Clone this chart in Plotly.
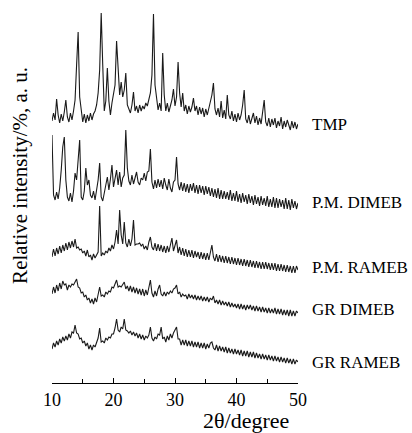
#!/usr/bin/env python3

import numpy as np
import plotly.graph_objects as go

# 2-theta sampling grid (degree), 0.25 step
two_theta = np.arange(10.0, 50.001, 0.25)

# intensities (arbitrary units, stacked offsets included)
tmp = [264, 272, 265, 286, 270, 262, 271, 264, 273, 285, 268, 263, 272, 265, 274, 285,
       320, 353, 288, 272, 263, 271, 262, 270, 264, 272, 265, 271, 274, 280, 292, 315,
       372, 320, 274, 284, 317, 284, 270, 282, 290, 300, 344, 318, 290, 303, 288, 295,
       312, 280, 276, 272, 280, 293, 274, 279, 272, 280, 274, 279, 276, 282, 279, 286,
       292, 310, 371, 300, 288, 275, 282, 274, 332, 290, 274, 282, 273, 280, 285, 296,
       279, 288, 323, 292, 278, 292, 274, 280, 271, 279, 273, 278, 287, 274, 279, 270,
       278, 271, 277, 268, 276, 270, 278, 283, 290, 302, 276, 270, 277, 268, 284, 267,
       275, 266, 290, 270, 266, 274, 264, 271, 263, 272, 265, 270, 280, 295, 266, 262,
       270, 261, 268, 272, 262, 269, 260, 267, 261, 272, 285, 263, 259, 267, 258, 266,
       260, 267, 257, 264, 259, 268, 256, 264, 258, 265, 261, 255, 264, 257, 263, 256,
       261]

pm_dimeb = [250, 190, 185, 193, 186, 197, 215, 238, 248, 205, 188, 184, 192, 183, 194, 212,
            205, 230, 245, 188, 185, 194, 217, 200, 205, 190, 187, 194, 185, 195, 205, 222,
            188, 184, 194, 200, 208, 195, 206, 220, 198, 208, 215, 200, 213, 198, 207, 210,
            255, 217, 204, 200, 210, 201, 209, 213, 203, 200, 207, 205, 212, 204, 213, 214,
            236, 203, 196, 205, 197, 206, 198, 205, 196, 207, 200, 195, 206, 197, 193, 203,
            205, 228, 201, 195, 203, 194, 202, 193, 201, 192, 201, 194, 202, 192, 200, 191,
            200, 192, 199, 190, 199, 191, 198, 189, 197, 188, 196, 187, 197, 186, 195, 186,
            194, 186, 193, 185, 195, 184, 192, 184, 194, 183, 191, 182, 192, 183, 190, 181,
            191, 182, 189, 180, 190, 181, 188, 179, 189, 180, 187, 179, 189, 178, 186, 178,
            188, 177, 187, 177, 186, 178, 185, 176, 187, 176, 185, 175, 186, 177, 184, 176,
            182]

pm_rameb = [128, 136, 129, 137, 131, 139, 132, 140, 134, 142, 135, 143, 137, 144, 138, 146,
            137, 138, 135, 136, 132, 134, 129, 135, 128, 130, 125, 131, 127, 130, 133, 179,
            129, 132, 130, 134, 132, 137, 134, 140, 136, 143, 155, 141, 175, 150, 141, 163,
            142, 138, 146, 139, 146, 165, 140, 141, 141, 142, 139, 141, 136, 139, 135, 143,
            148, 138, 135, 142, 134, 141, 134, 140, 133, 139, 132, 139, 133, 140, 147, 134,
            141, 145, 132, 138, 130, 137, 129, 136, 128, 135, 128, 135, 127, 134, 128, 133,
            126, 133, 126, 132, 125, 132, 125, 133, 140, 128, 124, 131, 123, 130, 123, 129,
            122, 129, 122, 128, 121, 128, 121, 127, 120, 127, 120, 126, 119, 126, 119, 125,
            118, 125, 118, 124, 117, 124, 117, 123, 116, 123, 116, 123, 116, 122, 115, 122,
            115, 122, 114, 121, 114, 121, 114, 120, 113, 120, 113, 119, 112, 119, 112, 119,
            115]

gr_dimeb = [91, 98, 92, 100, 94, 102, 96, 104, 100, 101, 95, 100, 98, 101, 100, 104,
            106, 98, 97, 92, 93, 88, 90, 85, 87, 82, 86, 81, 87, 83, 90, 98,
            89, 90, 88, 93, 91, 94, 93, 98, 97, 102, 105, 98, 99, 98, 100, 103,
            96, 99, 94, 99, 93, 98, 92, 97, 91, 96, 90, 96, 89, 95, 90, 97,
            105, 92, 88, 94, 89, 96, 100, 91, 89, 93, 89, 93, 91, 94, 92, 96,
            97, 100, 91, 93, 88, 91, 89, 90, 86, 91, 87, 90, 86, 90, 85, 89,
            85, 89, 84, 88, 84, 88, 83, 87, 85, 89, 82, 85, 81, 85, 80, 84,
            80, 83, 79, 83, 78, 82, 78, 81, 77, 81, 76, 81, 76, 80, 75, 80,
            76, 80, 75, 79, 74, 79, 74, 78, 73, 78, 73, 77, 72, 77, 72, 76,
            72, 77, 71, 76, 71, 76, 70, 75, 70, 75, 69, 75, 69, 74, 69, 74,
            72]

gr_rameb = [36, 42, 38, 44, 40, 46, 42, 48, 44, 49, 45, 51, 47, 53, 52, 60,
            52, 51, 46, 47, 42, 44, 39, 42, 36, 40, 35, 40, 38, 43, 47, 57,
            43, 44, 42, 47, 45, 48, 47, 51, 51, 57, 66, 55, 53, 58, 56, 66,
            55, 54, 52, 54, 50, 53, 49, 52, 47, 51, 46, 50, 45, 49, 47, 50,
            58, 47, 44, 48, 46, 51, 50, 58, 46, 48, 43, 49, 45, 51, 47, 52,
            55, 58, 46, 46, 40, 45, 40, 45, 39, 44, 39, 44, 38, 43, 38, 43,
            37, 42, 37, 42, 36, 41, 37, 42, 43, 37, 35, 40, 34, 39, 34, 38,
            33, 38, 32, 37, 32, 36, 31, 36, 31, 35, 30, 35, 29, 34, 29, 34,
            28, 33, 28, 33, 27, 32, 27, 31, 26, 31, 26, 30, 25, 30, 25, 29,
            24, 29, 24, 28, 23, 28, 23, 27, 22, 27, 22, 26, 21, 26, 21, 25,
            23]

series_names = ["TMP", "P.M. DIMEB", "P.M. RAMEB", "GR DIMEB", "GR RAMEB"]
series_values = [tmp, pm_dimeb, pm_rameb, gr_dimeb, gr_rameb]
label_heights = [261, 183, 118, 76, 23]

FONT = "Liberation Serif, Times New Roman, serif"

fig = go.Figure()

for name, vals in zip(series_names, series_values):
    fig.add_trace(go.Scatter(x=two_theta, y=vals, mode="lines", name=name,
                             line=dict(color="#1a1a1a", width=1.1)))

# curve labels on the right
for name, h in zip(series_names, label_heights):
    fig.add_annotation(text=name, x=1.049, xref="paper", y=h, yref="y",
                       xanchor="left", yanchor="middle", showarrow=False,
                       font=dict(family=FONT, size=17, color="black"))

# axis titles as annotations (x title sits right of centre in the original)
fig.add_annotation(text="2θ/degree", x=0.79, xref="paper", y=-0.098, yref="paper",
                   xanchor="center", yanchor="middle", showarrow=False,
                   font=dict(family=FONT, size=22, color="black"))
fig.add_annotation(text="Relative intensity/%, a. u.", x=-0.13, xref="paper",
                   y=0.548, yref="paper", textangle=-90, xanchor="center",
                   yanchor="middle", showarrow=False,
                   font=dict(family=FONT, size=21, color="black"))

fig.update_layout(
    width=412, height=433,
    margin=dict(l=52, r=114, t=5, b=50),
    plot_bgcolor="white", paper_bgcolor="white",
    showlegend=False,
    font=dict(family=FONT, size=18, color="black"),
)

fig.update_xaxes(range=[10, 50], showline=True, linecolor="black", linewidth=1,
                 ticks="inside", ticklen=5, tickwidth=1, tickcolor="black",
                 tickvals=[10, 20, 30, 40, 50], showgrid=False, zeroline=False,
                 minor=dict(ticks="inside", ticklen=4, tickvals=[15, 25, 35, 45],
                            tickcolor="black"),
                 tickfont=dict(family=FONT, size=18, color="black"))
fig.update_yaxes(range=[2, 380], visible=False, showgrid=False, zeroline=False)

# drop the default page margin so the figure sits at the window's top-left
fig.write_html("out.html", config={"displayModeBar": False},
               post_script="document.body.style.margin='0';")
